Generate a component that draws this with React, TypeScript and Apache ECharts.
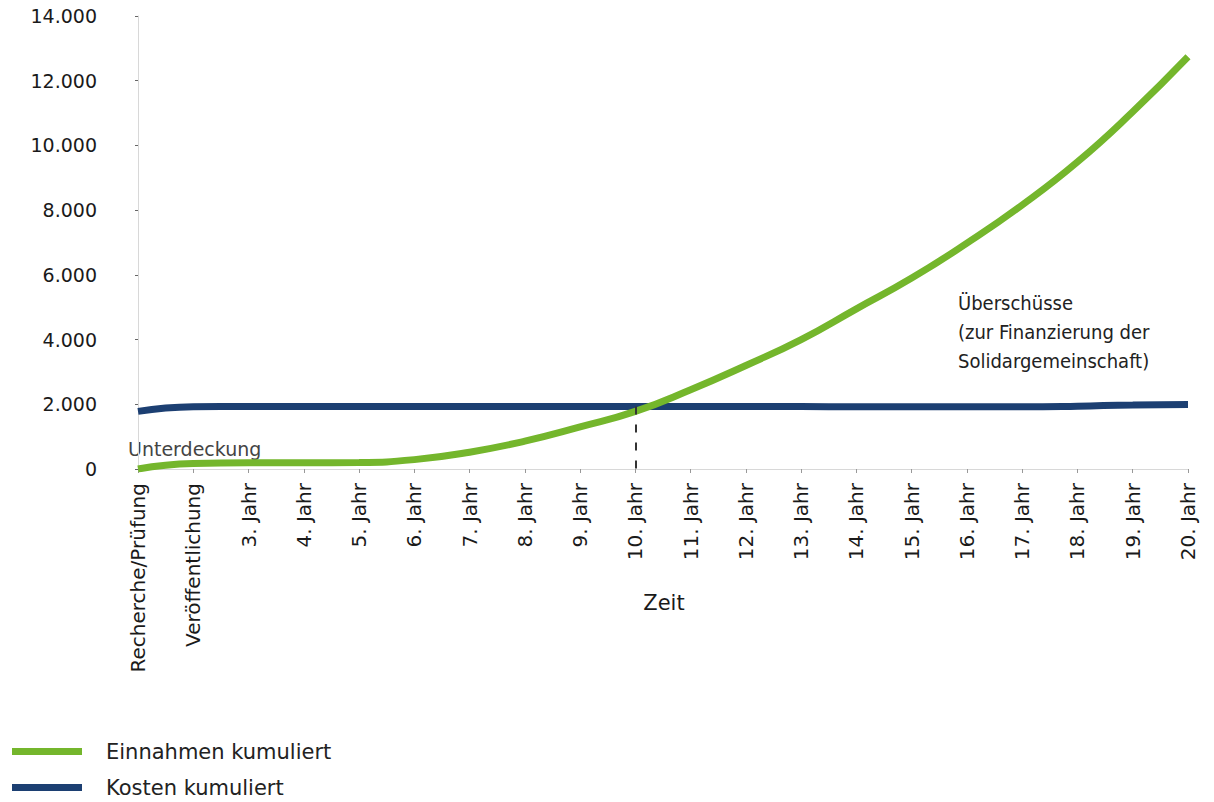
import React, { useEffect, useRef } from "react";
import * as echarts from "echarts";

const categories = [
  "Recherche/Prüfung",
  "Veröffentlichung",
  "3. Jahr",
  "4. Jahr",
  "5. Jahr",
  "6. Jahr",
  "7. Jahr",
  "8. Jahr",
  "9. Jahr",
  "10. Jahr",
  "11. Jahr",
  "12. Jahr",
  "13. Jahr",
  "14. Jahr",
  "15. Jahr",
  "16. Jahr",
  "17. Jahr",
  "18. Jahr",
  "19. Jahr",
  "20. Jahr",
];

const einnahmen = [0, 170, 190, 190, 200, 290, 520, 860, 1300, 1780, 2450, 3200, 4000, 4950, 5900, 6980, 8160, 9490, 11040, 12740];
const kosten = [1780, 1920, 1930, 1930, 1930, 1930, 1930, 1930, 1930, 1930, 1930, 1930, 1930, 1920, 1920, 1920, 1920, 1940, 1980, 1990];

const seriesNames = ["Einnahmen kumuliert", "Kosten kumuliert"];
const breakEvenIndex = 9.32;
const breakEvenValue = 1930;
const yMin = 0;
const yMax = 14000;
const yInterval = 2000;

const GREEN = "#74b62c";
const BLUE = "#1c3f72";
const FONT = "'DejaVu Sans', sans-serif";
const FONT_COND = "'Liberation Sans Narrow', 'DejaVu Sans Condensed', sans-serif";

function fmt(v: number) {
  return String(v).replace(/\B(?=(\d{3})+(?!\d))/g, ".");
}

function legendFor(name: string, top: number) {
  return {
    orient: "vertical",
    left: 12,
    top,
    padding: 0,
    icon: "rect",
    itemWidth: 70,
    itemHeight: 7,
    data: [name],
    textStyle: {
      fontFamily: FONT,
      fontSize: 21,
      color: "#222",
      padding: [0, 0, 0, 19],
    },
  };
}

export default function App() {
  const ref = useRef<HTMLDivElement>(null);
  useEffect(() => {
    if (!ref.current) return;
    const chart = echarts.init(ref.current, undefined, { renderer: "svg" });
    chart.setOption({
      animation: false,
      backgroundColor: "#ffffff",
      grid: { left: 138, right: 26, top: 16, bottom: 333, containLabel: false },
      legend: [legendFor(seriesNames[0], 741), legendFor(seriesNames[1], 777)],
      xAxis: {
        type: "category",
        data: categories,
        boundaryGap: false,
        axisLine: { show: true, lineStyle: { color: "#d8d8d8", width: 1 } },
        axisTick: { show: true, length: 4, lineStyle: { color: "#999" } },
        axisLabel: {
          rotate: 90,
          interval: 0,
          margin: 14,
          fontFamily: FONT,
          fontSize: 20,
          color: "#1a1a1a",
        },
        splitLine: { show: false },
      },
      yAxis: {
        type: "value",
        min: yMin,
        max: yMax,
        interval: yInterval,
        axisLine: { show: true, lineStyle: { color: "#d8d8d8", width: 1 } },
        axisTick: { show: true, length: 3, lineStyle: { color: "#666" } },
        axisLabel: {
          margin: 41,
          fontFamily: FONT,
          fontSize: 19,
          color: "#1a1a1a",
          formatter: (v: number) => fmt(v),
        },
        splitLine: { show: false },
      },
      series: [
        {
          name: seriesNames[0],
          type: "line",
          data: einnahmen,
          smooth: true,
          showSymbol: false,
          symbol: "none",
          z: 3,
          lineStyle: { color: GREEN, width: 7 },
          itemStyle: { color: GREEN },
          markLine: {
            silent: true,
            symbol: "none",
            label: { show: false },
            lineStyle: { color: "#333", type: [8, 10], width: 2 },
            data: [
              [
                { coord: [breakEvenIndex, breakEvenValue] },
                { coord: [breakEvenIndex, yMin] },
              ],
            ],
          },
        },
        {
          name: seriesNames[1],
          type: "line",
          data: kosten,
          smooth: true,
          showSymbol: false,
          symbol: "none",
          z: 2,
          lineStyle: { color: BLUE, width: 7 },
          itemStyle: { color: BLUE },
        },
      ],
      graphic: [
        {
          type: "text",
          x: 128,
          y: 449,
          style: {
            text: "Unterdeckung",
            fontFamily: FONT,
            fontSize: 19,
            fill: "#444",
            verticalAlign: "middle",
          },
        },
        {
          type: "text",
          x: 958,
          y: 288,
          style: {
            text: "Überschüsse\n(zur Finanzierung der\nSolidargemeinschaft)",
            fontFamily: FONT_COND,
            fontSize: 20,
            lineHeight: 29,
            fill: "#222",
          },
        },
        {
          type: "text",
          x: 664,
          y: 603,
          style: {
            text: "Zeit",
            fontFamily: FONT,
            fontSize: 21,
            fill: "#1a1a1a",
            align: "center",
            verticalAlign: "middle",
          },
        },
      ],
    });
    return () => chart.dispose();
  }, []);
  return (
    <div
      ref={ref}
      style={{ position: "absolute", left: 0, top: 0, width: 1214, height: 802 }}
    />
  );
}
